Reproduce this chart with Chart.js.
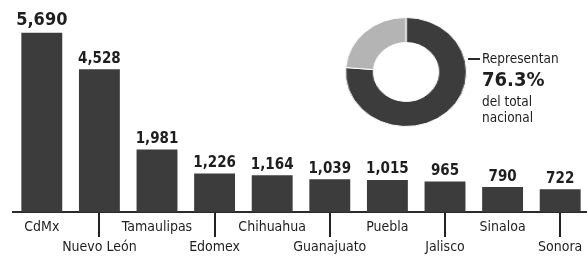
<!DOCTYPE html>
<html>
<head>
<meta charset="utf-8">
<script src="https://cdn.jsdelivr.net/npm/chart.js@4"></script>
<style>
  body { margin: 0; background: #fff; overflow: hidden; width: 587px; height: 256px; position: relative;
         font-family: "Liberation Sans Narrow", "DejaVu Sans Condensed", "Roboto Condensed", sans-serif; color: #1e1e1e; }
  #bars { position: absolute; left: 0; top: 0; }
  #donut { position: absolute; left: 345px; top: 17px; width: 122px !important; height: 110px !important; }
  .lead { position: absolute; left: 468px; top: 58px; width: 12px; height: 0; border-top: 2px solid #2a2a2a; }
  .note { position: absolute; left: 482px; top: 50px; font-size: 13.5px; line-height: 16px; }
  .note b { display: block; font-size: 20px; line-height: 24px; margin: 1px 0 2px; }
</style>
</head>
<body>
<canvas id="bars" width="590" height="256"></canvas>
<canvas id="donut" width="110" height="110"></canvas>
<div class="lead"></div>
<div class="note">Representan<b>76.3%</b>del total<br>nacional</div>
<script>
const states = ['CdMx', 'Nuevo León', 'Tamaulipas', 'Edomex', 'Chihuahua', 'Guanajuato', 'Puebla', 'Jalisco', 'Sinaloa', 'Sonora'];
const cases = [5690, 4528, 1981, 1226, 1164, 1039, 1015, 965, 790, 722];
const shareLabels = ['Estos 10 estados', 'Resto del país'];
const share = [76.3, 23.7];

const font = '"Liberation Sans Narrow", "DejaVu Sans Condensed", "Roboto Condensed", sans-serif';

// numbers above the bars
const valueLabels = {
  id: 'valueLabels',
  afterDatasetsDraw(chart) {
    const ctx = chart.ctx;
    chart.getDatasetMeta(0).data.forEach((bar, i) => {
      ctx.save();
      ctx.font = 'bold ' + (i === 0 ? 18 : 15) + 'px ' + font;
      ctx.fillStyle = '#1e1e1e';
      ctx.textAlign = 'center';
      ctx.textBaseline = 'bottom';
      ctx.fillText(cases[i].toLocaleString('en-US'), bar.x, bar.y - 3);
      ctx.restore();
    });
  }
};

new Chart(document.getElementById('bars'), {
  type: 'bar',
  data: {
    labels: states.map((s, i) => i % 2 ? ['', s] : [s]),
    datasets: [{
      data: cases,
      backgroundColor: '#3c3c3c',
      barPercentage: 0.71,
      categoryPercentage: 1
    }]
  },
  options: {
    responsive: false,
    animation: false,
    layout: { padding: { left: 13, right: 1, top: 23, bottom: 0 } },
    plugins: { legend: { display: false }, tooltip: { enabled: false } },
    scales: {
      x: {
        grid: {
          offset: false,
          drawOnChartArea: false,
          tickLength: 25,
          lineWidth: 2,
          color: c => c.index % 2 ? '#222' : 'rgba(0,0,0,0)'
        },
        border: { display: true, color: '#2a2a2a', width: 2 },
        ticks: { padding: -20, color: '#1e1e1e', autoSkip: false, maxRotation: 0,
                 font: { family: font, size: 14, lineHeight: 1.43 } },
        afterFit(s) { s.height = 44; }
      },
      y: { display: false, min: 0, max: 6000 }
    }
  },
  plugins: [valueLabels]
});

new Chart(document.getElementById('donut'), {
  type: 'doughnut',
  data: {
    labels: shareLabels,
    datasets: [{
      data: share,
      backgroundColor: ['#3c3c3c', '#b4b4b4'],
      borderColor: '#fff',
      borderWidth: 1
    }]
  },
  options: {
    responsive: false,
    animation: false,
    cutout: '54%',
    plugins: { legend: { display: false }, tooltip: { enabled: false } }
  }
});
</script>
</body>
</html>
